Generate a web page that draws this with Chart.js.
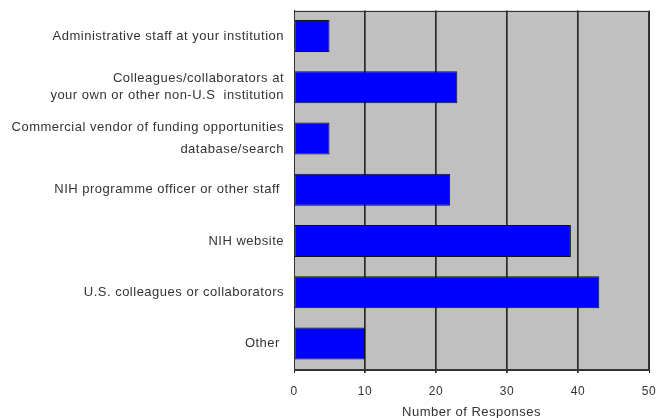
<!DOCTYPE html>
<html>
<head>
<meta charset="utf-8">
<script src="https://cdn.jsdelivr.net/npm/chart.js@4/dist/chart.umd.min.js"></script>
<style>
html,body{margin:0;padding:0;background:#fff;}
#wrap{width:657px;height:418px;position:relative;}
</style>
</head>
<body>
<div id="wrap"><canvas id="c" width="657" height="418"></canvas></div>
<script>
const categories = [
  "Administrative staff at your institution",
  ["Colleagues/collaborators at", "your own or other non-U.S  institution"],
  ["Commercial vendor of funding opportunities", "database/search"],
  "NIH programme officer or other staff ",
  "NIH website",
  "U.S. colleagues or collaborators",
  "Other "
];
const responses = [5, 23, 5, 22, 39, 43, 10];
const xTicks = [0, 10, 20, 30, 40, 50];
const xTitle = "Number of Responses";

const LS = '0.5px';
const spacing = {
  id: 'spacing',
  beforeUpdate(chart){ chart.ctx.letterSpacing = LS; },
  beforeLayout(chart){ chart.ctx.letterSpacing = LS; },
  beforeDraw(chart){
    const ctx = chart.ctx;
    ctx.letterSpacing = LS;
    const a = chart.chartArea;
    ctx.save();
    ctx.fillStyle = '#c0c0c0';
    ctx.fillRect(a.left, a.top, a.right - a.left, a.bottom - a.top);
    ctx.restore();
  },
  afterDatasetsDraw(chart){
    const ctx = chart.ctx;
    const a = chart.chartArea;
    ctx.save();
    ctx.strokeStyle = '#333';
    ctx.lineWidth = 1;
    ctx.strokeRect(Math.round(a.left) + 0.5, Math.round(a.top) + 0.5, Math.round(a.right - a.left) - 1, Math.round(a.bottom - a.top));
    ctx.restore();
  }
};

const FAM = 'Liberation Sans, Arial, sans-serif';

new Chart(document.getElementById('c'), {
  type: 'bar',
  data: {
    labels: categories,
    datasets: [{
      data: responses,
      backgroundColor: '#0000ff',
      borderColor: '#111',
      borderWidth: 1,
      borderSkipped: false,
      barPercentage: 0.625,
      categoryPercentage: 1.0
    }]
  },
  options: {
    indexAxis: 'y',
    responsive: false,
    animation: false,
    layout: { padding: { top: 10.5, right: 8, left: 0, bottom: 0 } },
    plugins: { legend: { display: false }, tooltip: { enabled: false } },
    scales: {
      x: {
        min: 0, max: 50,
        afterBuildTicks(scale){ scale.ticks = xTicks.map(v => ({ value: v })); },
        afterFit(scale){ scale.height = 49; scale.paddingLeft = 0; scale.paddingRight = 0; },
        grid: {
          color: '#2a2a2a',
          lineWidth: (ctx) => (ctx.index === 0 || ctx.index === xTicks.length - 1) ? 1 : 1.7,
          tickLength: 4,
          drawTicks: true
        },
        border: { display: true, color: '#333', width: 1 },
        ticks: {
          color: '#333',
          font: { family: FAM, size: 12 },
          padding: 11
        },
        title: {
          display: true,
          text: xTitle,
          color: '#333',
          font: { family: FAM, size: 13, lineHeight: 0.8 },
          padding: { top: 0, bottom: 0 }
        }
      },
      y: {
        afterFit(scale){ scale.width = 294; scale.paddingTop = 0; scale.paddingBottom = 0; },
        grid: { display: false, drawTicks: false },
        border: { display: true, color: '#333', width: 1 },
        ticks: {
          color: '#333',
          padding: 10,
          font: (ctx) => ({
            family: FAM,
            size: 13,
            lineHeight: ctx.index === 2 ? 1.7 : 1.31
          })
        }
      }
    }
  },
  plugins: [spacing]
});
</script>
</body>
</html>
